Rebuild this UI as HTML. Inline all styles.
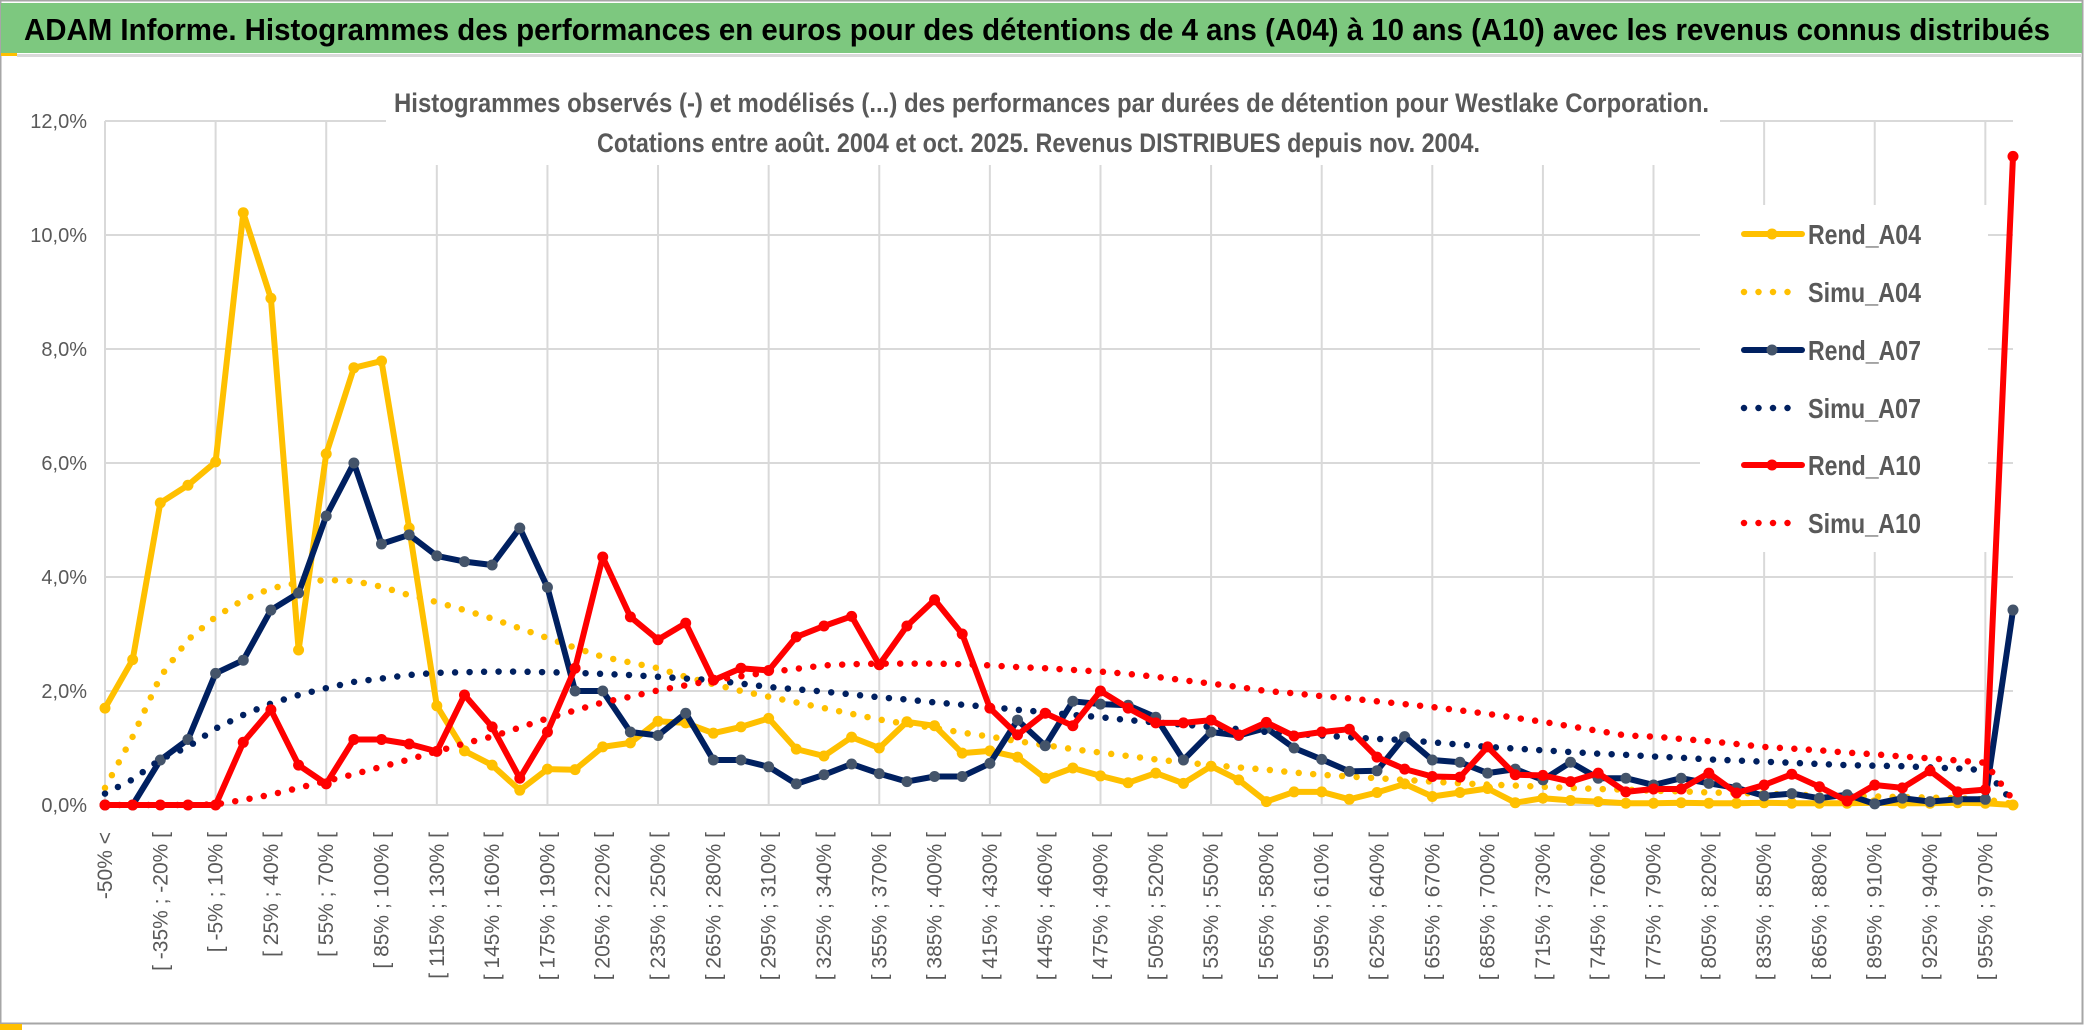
<!DOCTYPE html>
<html><head><meta charset="utf-8">
<style>
html,body{margin:0;padding:0;background:#fff;}
svg{display:block;}
text{font-family:"Liberation Sans Narrow","Liberation Sans",sans-serif;}
</style></head>
<body>
<svg id="chart" width="2086" height="1033" viewBox="0 0 2086 1033" xmlns="http://www.w3.org/2000/svg">
  <rect x="0" y="0" width="2086" height="1033" fill="#fff"/>
  <rect x="0.5" y="0.5" width="2082" height="1023" fill="none" stroke="#a6a6a6" stroke-width="2"/>
  <rect x="0" y="1024" width="22" height="6" fill="#ffc000"/>
  <rect x="1" y="3" width="2081" height="50" fill="#7dc87f"/>
  <rect x="1" y="53" width="16" height="3" fill="#ffc000"/>
  <rect x="17" y="54" width="2065" height="3" fill="#d9d9d9"/>
  <text x="24" y="40" font-size="31" font-weight="bold" fill="#000" textLength="2026" lengthAdjust="spacingAndGlyphs">ADAM Informe. Histogrammes des performances en euros pour des détentions de 4 ans (A04) à 10 ans (A10) avec les revenus connus distribués</text>
  <g id="grid"></g>
  <rect x="386" y="80" width="1334" height="85" fill="#fff"/>
  <rect x="1700" y="205" width="288" height="347" fill="#fff"/>
  <text x="394" y="112" font-size="27" font-weight="bold" fill="#595959" textLength="1315" lengthAdjust="spacingAndGlyphs">Histogrammes observés (-) et modélisés (...) des performances par durées de détention pour Westlake Corporation.</text>
  <text x="597" y="152" font-size="27" font-weight="bold" fill="#595959" textLength="883" lengthAdjust="spacingAndGlyphs">Cotations entre août. 2004 et oct. 2025. Revenus DISTRIBUES depuis nov. 2004.</text>
  <g id="yaxis"></g>
  <g id="xaxis"></g>
  <g id="series"></g>
  <g id="legend"></g>
</svg>
<script>
const categoryCount = 70;
const yTicks = [0, 2, 4, 6, 8, 10, 12];
const rendA04 = [1.7,2.55,5.3,5.61,6.02,10.39,8.89,2.72,6.16,7.67,7.79,4.86,1.74,0.95,0.70,0.26,0.63,0.62,1.02,1.09,1.47,1.44,1.26,1.37,1.52,0.98,0.86,1.19,1.0,1.46,1.39,0.91,0.95,0.84,0.47,0.65,0.51,0.39,0.56,0.38,0.68,0.44,0.06,0.23,0.23,0.1,0.22,0.37,0.15,0.22,0.29,0.04,0.12,0.08,0.06,0.03,0.03,0.04,0.03,0.03,0.04,0.03,0.03,0.03,0.04,0.03,0.03,0.04,0.03,0.0];
const simuA04 = [0.3,1.2,2.25,2.9,3.3,3.6,3.8,3.9,3.95,3.93,3.83,3.68,3.56,3.42,3.27,3.1,2.93,2.76,2.6,2.5,2.4,2.25,2.12,2.0,1.9,1.8,1.7,1.6,1.5,1.42,1.35,1.27,1.2,1.12,1.05,0.98,0.92,0.86,0.8,0.75,0.7,0.66,0.62,0.57,0.53,0.5,0.47,0.44,0.41,0.38,0.36,0.34,0.32,0.3,0.28,0.27,0.25,0.24,0.22,0.21,0.2,0.18,0.17,0.16,0.15,0.14,0.13,0.12,0.1,0.02];
const rendA07 = [0,0,0.79,1.15,2.31,2.54,3.42,3.72,5.07,6.0,4.58,4.74,4.37,4.27,4.21,4.86,3.82,2.0,2.0,1.28,1.22,1.61,0.79,0.79,0.67,0.37,0.53,0.72,0.55,0.41,0.5,0.5,0.73,1.49,1.04,1.82,1.77,1.75,1.54,0.79,1.28,1.22,1.35,1.0,0.8,0.59,0.6,1.2,0.79,0.75,0.56,0.63,0.44,0.75,0.47,0.47,0.35,0.47,0.38,0.3,0.16,0.2,0.12,0.18,0.02,0.12,0.06,0.1,0.1,3.42];
const simuA07 = [0.2,0.45,0.8,1.02,1.34,1.58,1.78,1.93,2.05,2.16,2.22,2.28,2.32,2.33,2.34,2.34,2.33,2.32,2.3,2.28,2.25,2.22,2.19,2.13,2.07,2.03,1.99,1.94,1.89,1.85,1.8,1.76,1.72,1.67,1.63,1.58,1.54,1.49,1.45,1.41,1.37,1.33,1.28,1.25,1.22,1.19,1.16,1.14,1.1,1.06,1.02,0.99,0.96,0.93,0.9,0.88,0.85,0.83,0.8,0.78,0.76,0.74,0.72,0.7,0.69,0.68,0.66,0.64,0.61,0.05];
const rendA10 = [0,0,0,0,0,1.1,1.67,0.70,0.37,1.15,1.15,1.07,0.94,1.93,1.37,0.47,1.28,2.4,4.35,3.3,2.9,3.19,2.19,2.4,2.36,2.95,3.14,3.31,2.46,3.14,3.6,3.0,1.7,1.23,1.61,1.39,2.0,1.7,1.44,1.44,1.49,1.23,1.45,1.21,1.28,1.33,0.84,0.63,0.5,0.49,1.02,0.53,0.52,0.41,0.56,0.23,0.28,0.28,0.56,0.21,0.35,0.54,0.32,0.07,0.35,0.3,0.6,0.23,0.27,11.38];
const simuA10 = [0,0,0,0,0.01,0.09,0.18,0.3,0.42,0.54,0.67,0.8,0.94,1.08,1.2,1.36,1.52,1.66,1.8,1.9,2.01,2.1,2.19,2.26,2.33,2.39,2.45,2.47,2.48,2.48,2.48,2.47,2.45,2.42,2.4,2.37,2.34,2.3,2.25,2.19,2.13,2.07,2.0,1.96,1.91,1.87,1.82,1.77,1.72,1.66,1.6,1.53,1.46,1.38,1.3,1.22,1.2,1.16,1.12,1.07,1.02,0.99,0.96,0.92,0.89,0.85,0.82,0.78,0.74,0.09];
const seriesNames = ["Rend_A04","Simu_A04","Rend_A07","Simu_A07","Rend_A10","Simu_A10"];

const NS = "http://www.w3.org/2000/svg";
const X0 = 105, X1 = 2013, Y0 = 805, Y12 = 121;
function xPos(i){ return X0 + i * (X1 - X0) / (categoryCount - 1); }
function yPos(v){ return Y0 - v * (Y0 - Y12) / 12; }
function mk(tag, attrs, parent){ const e = document.createElementNS(NS, tag); for (const k in attrs) e.setAttribute(k, attrs[k]); parent.appendChild(e); return e; }
function catLabel(i){ if (i === 0) return "-50% <"; const lo = -50 + 15*(i-1); return "[ " + lo + "% ; " + (lo+15) + "% ["; }

const grid = document.getElementById('grid');
yTicks.forEach(t => {
  const l = mk('line', {x1: X0, x2: X1, y1: yPos(t), y2: yPos(t), stroke: '#d9d9d9', 'stroke-width': 2}, grid);
  
  
});
for (let i = 0; i < categoryCount; i += 4) {
  const l = mk('line', {x1: xPos(i), x2: xPos(i), y1: Y12, y2: Y0, stroke: '#d9d9d9', 'stroke-width': 2}, grid);
  
  
}

const yaxis = document.getElementById('yaxis');
yTicks.forEach(t => {
  const tx = mk('text', {x: 87, y: yPos(t) + 7, 'text-anchor': 'end', 'font-size': 20, fill: '#595959'}, yaxis);
  tx.textContent = t.toFixed(1).replace('.', ',') + '%';
  
  
});

const xaxis = document.getElementById('xaxis');
for (let i = 0; i < categoryCount; i += 2) {
  const x = xPos(i);
  const tx = mk('text', {transform: 'translate(' + (x + 7) + ',832) rotate(-90)', 'text-anchor': 'end', 'font-size': 21, fill: '#595959', style: 'font-family:"Liberation Sans",sans-serif'}, xaxis);
  tx.textContent = catLabel(i);
  
  
}

const styles = [
  {data: rendA04, color: '#ffc000', marker: '#ffc000', dotted: false},
  {data: simuA04, color: '#ffc000', dotted: true},
  {data: rendA07, color: '#002060', marker: '#44546a', dotted: false},
  {data: simuA07, color: '#002060', dotted: true},
  {data: rendA10, color: '#ff0000', marker: '#ff0000', dotted: false},
  {data: simuA10, color: '#ff0000', dotted: true}
];
const series = document.getElementById('series');
styles.forEach((s, k) => {
  const g = mk('g', {}, series);
  
  
  const pts = s.data.map((v, i) => xPos(i).toFixed(1) + ',' + yPos(v).toFixed(1)).join(' ');
  const attrs = {points: pts, fill: 'none', stroke: s.color, 'stroke-linejoin': 'round', 'stroke-linecap': 'round'};
  if (s.dotted) { attrs['stroke-width'] = 6.5; attrs['stroke-dasharray'] = '0 14.5'; }
  else { attrs['stroke-width'] = 6; }
  const pl = mk('polyline', attrs, g);
  
  
  if (!s.dotted) {
    s.data.forEach((v, i) => {
      const c = mk('circle', {cx: xPos(i), cy: yPos(v), r: 5.5, fill: s.marker}, g);
      
      
    });
  }
});

const legend = document.getElementById('legend');
const legendY = [234, 292, 350, 408, 465, 523];
styles.forEach((s, k) => {
  const g = mk('g', {}, legend);
  
  
  const y = legendY[k];
  if (s.dotted) {
    mk('line', {x1: 1744, x2: 1802, y1: y, y2: y, stroke: s.color, 'stroke-width': 6.5, 'stroke-linecap': 'round', 'stroke-dasharray': '0 14.5'}, g);
  } else {
    mk('line', {x1: 1744, x2: 1802, y1: y, y2: y, stroke: s.color, 'stroke-width': 6, 'stroke-linecap': 'round'}, g);
    mk('circle', {cx: 1772, cy: y, r: 5.5, fill: s.marker}, g);
  }
  const t = mk('text', {x: 1808, y: y + 10, 'font-size': 28, 'font-weight': 'bold', fill: '#595959', textLength: 113, lengthAdjust: 'spacingAndGlyphs'}, g);
  t.textContent = seriesNames[k];
});
</script>
</body></html>
